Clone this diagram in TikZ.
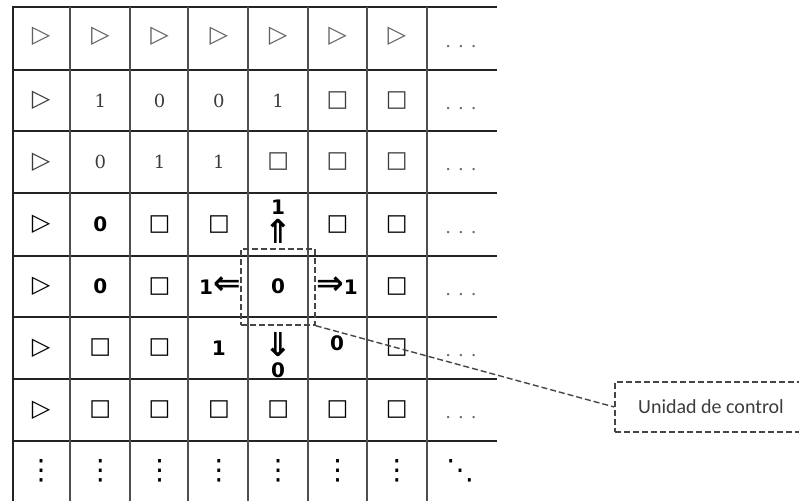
\documentclass[tikz,border=0pt]{standalone}
\usepackage{fontspec}
\newfontfamily\cellserif{DejaVu Serif}
\newfontfamily\symfont{DejaVu Sans}
\newfontfamily\cellsans{DejaVu Sans}
\newfontfamily\labelfont{Carlito}
\usetikzlibrary{positioning}
\definecolor{tgrey}{RGB}{60,60,60}
\definecolor{dgrey}{RGB}{105,105,105}
\definecolor{lgrid}{RGB}{35,35,35}
\definecolor{ldash}{RGB}{70,70,70}
\newcommand{\tright}{{\symfont\fontsize{24}{24}\selectfont ▷}}
\newcommand{\sqbox}{{\symfont\fontsize{23}{23}\selectfont □}}
\newcommand{\bigarr}[1]{{\fontsize{33}{33}\selectfont #1}}

\begin{document}
\begin{tikzpicture}[x=1pt, y=-1pt,
    light row/.style={inner sep=0pt, text=tgrey, font=\cellserif\fontsize{18}{18}\selectfont},
    bold row/.style={inner sep=0pt, font=\cellsans\bfseries\fontsize{20}{20}\selectfont},
    dotcell/.style={inner sep=0pt, text=dgrey, font=\cellserif\fontsize{18}{18}\selectfont},
    dashbox/.style={draw=ldash, line width=1.4pt, dash pattern=on 6pt off 3pt}]
    \useasboundingbox (0,0) rectangle (799,501);

    % grid
    \foreach \y in {7,70,131,193,256,317,379,441}
        \draw[lgrid, line width=1.8pt] (12,\y) -- (497,\y);
    \draw[lgrid, line width=2pt] (12.5,7) -- (12.5,501);
    \foreach \x in {70,130,188,248,308,367,427}
        \draw[lgrid!80, line width=1.1pt] (\x,7) -- (\x,501);

    % rows 1 - 3
    \foreach \i in {1,...,7}
        \node[light row, text=tgrey!80] (c1-\i) at ({41+59.3*(\i-1)},36) {\tright};
    \foreach \t [count=\i] in {\tright,1,0,0,1,\sqbox,\sqbox}
        \node[light row] (c2-\i) at ({41+59.3*(\i-1)},100.5) {\t};
    \foreach \t [count=\i] in {\tright,0,1,1,\sqbox,\sqbox,\sqbox}
        \node[light row] (c3-\i) at ({41+59.3*(\i-1)},162) {\t};

    % rows 4 - 7
    \foreach \t [count=\i] in {\tright,0,\sqbox,\sqbox,{},\sqbox,\sqbox}
        \node[bold row] (c4-\i) at ({41+59.3*(\i-1)},224.5) {\t};
    \foreach \t [count=\i] in {\tright,0,\sqbox,{},0,{},\sqbox}
        \node[bold row] (c5-\i) at ({41+59.3*(\i-1)},286.5) {\t};
    \foreach \t [count=\i] in {\tright,\sqbox,\sqbox,1,{},{},\sqbox}
        \node[bold row] (c6-\i) at ({41+59.3*(\i-1)},348) {\t};
    \foreach \t [count=\i] in {\tright,\sqbox,\sqbox,\sqbox,\sqbox,\sqbox,\sqbox}
        \node[bold row] (c7-\i) at ({41+59.3*(\i-1)},410) {\t};

    % moves of the control unit
    \node[bold row] (up1) at (278,207) {1};
    \node[bold row] (up) at (278,231) {\bigarr{⇑}};
    \node[bold row, anchor=base east] (left) at (241,294) {1\bigarr{⇐}};
    \node[bold row, anchor=base west] (right) at (316,294) {\bigarr{⇒}1};
    \node[bold row] (down) at (278,345) {\bigarr{⇓}};
    \node[bold row] (down0) at (278,370) {0};
    \node[bold row] (c6-6) at (337,343) {0};

    % last column and row
    \foreach \y [count=\j] in {38.5,100.5,162,224.5,286.5,348,410}
        \node[dotcell] (c\j-8) at (461,{\y+8}) {.\hspace{7pt}.\hspace{7pt}.};
    \foreach \i in {1,...,7}
        \node[inner sep=0pt, font=\symfont\fontsize{28}{28}\selectfont] (c8-\i) at ({41+59.3*(\i-1)},471) {⋮};
    \node[inner sep=0pt, font=\symfont\fontsize{28}{28}\selectfont] (c8-8) at (460,471) {⋱};

    % control unit
    \node[dashbox, minimum width=74pt, minimum height=76pt] (cu) at (278,287) {};
    \node[dashbox, minimum width=186pt, minimum height=50pt] (uc) at (708,407) {};
    \node[inner sep=0pt, font=\labelfont\fontsize{20}{20}\selectfont, text=tgrey] (ucl) at (711,407) {Unidad de control};
    \draw[ldash, line width=1.4pt, dash pattern=on 6pt off 3pt] (cu.south east) -- (uc.west);
\end{tikzpicture}
\end{document}
